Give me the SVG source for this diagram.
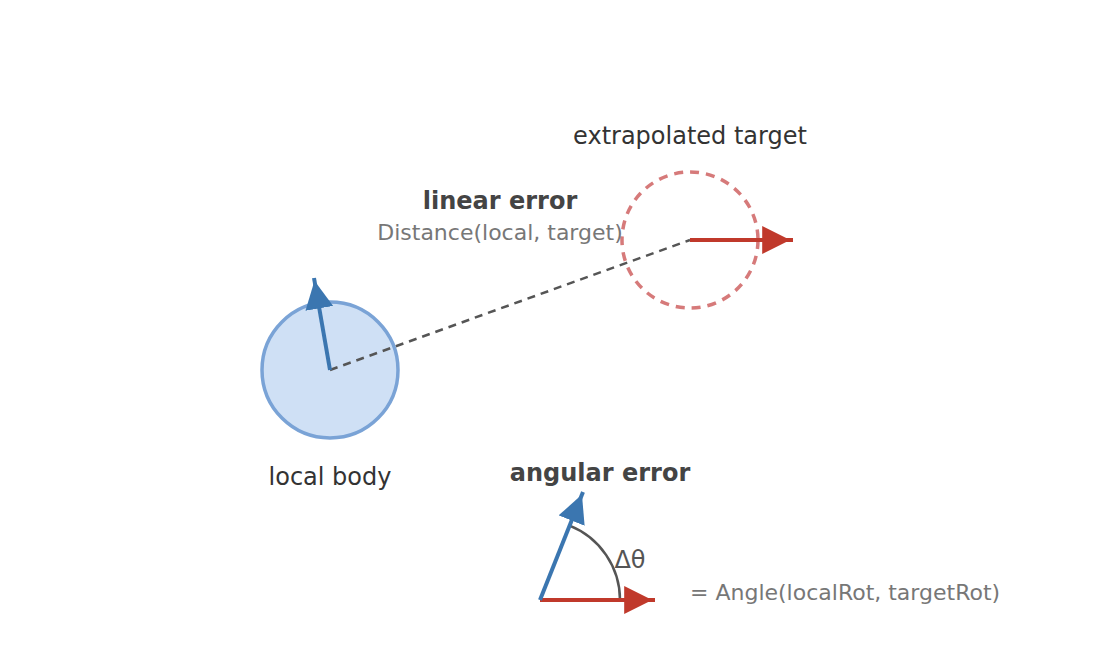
<svg xmlns="http://www.w3.org/2000/svg" width="1120" height="660" viewBox="0 0 1120 660">
<style>
text{font-family:"DejaVu Sans",sans-serif}
.lbl{font-size:24px;fill:#333}
.bold{font-size:24px;font-weight:bold;fill:#444}
.sub{font-size:22px;fill:#777}
.blue{stroke:#3b76b0;stroke-width:4;fill:none}
.red{stroke:#c0392b;stroke-width:4;fill:none}
</style>
<defs>
<marker id="ab" viewBox="0 0 12 10" markerWidth="8.4" markerHeight="7" refX="11" refY="5" orient="auto" markerUnits="strokeWidth"><path d="M0,0L10,5L0,10z" fill="#3b76b0"/></marker>
<marker id="ar" viewBox="0 0 12 10" markerWidth="8.4" markerHeight="7" refX="11" refY="5" orient="auto" markerUnits="strokeWidth"><path d="M0,0L10,5L0,10z" fill="#c0392b"/></marker>
</defs>
<rect width="1120" height="660" fill="#fff"/>
<g id="local-body">
<circle cx="330" cy="370" r="68" fill="#cfe0f5" stroke="#7aa3d6" stroke-width="3.5"/>
<text class="lbl" x="330" y="485" text-anchor="middle">local body</text>
</g>
<g id="target">
<circle cx="690" cy="240" r="68" fill="none" stroke="#d67a7a" stroke-width="3.5" stroke-dasharray="9,7"/>
<text class="lbl" x="690" y="144" text-anchor="middle">extrapolated target</text>
</g>
<g id="linear-error">
<text class="bold" x="500" y="209" text-anchor="middle">linear error</text>
<text class="sub" x="500" y="240" text-anchor="middle">Distance(local, target)</text>
</g>
<g id="connectors">
<line x1="330" y1="370" x2="690" y2="240" stroke="#555" stroke-width="2.5" stroke-dasharray="8,6"/>
<line class="blue" x1="330" y1="370" x2="314" y2="278" marker-end="url(#ab)"/>
<line class="red" x1="690" y1="240" x2="793" y2="240" marker-end="url(#ar)"/>
</g>
<g id="angular-error">
<text class="bold" x="600" y="481" text-anchor="middle">angular error</text>
<path d="M569.6,525.7A80,80 0 0 1 620,600" fill="none" stroke="#555" stroke-width="2.5"/>
<line class="red" x1="540" y1="600" x2="655" y2="600" marker-end="url(#ar)"/>
<line class="blue" x1="540" y1="600" x2="583" y2="492" marker-end="url(#ab)"/>
<text x="630" y="568" text-anchor="middle" style="font-size:24px;fill:#555">Δθ</text>
<text class="sub" x="690" y="600">= Angle(localRot, targetRot)</text>
</g>
</svg>
